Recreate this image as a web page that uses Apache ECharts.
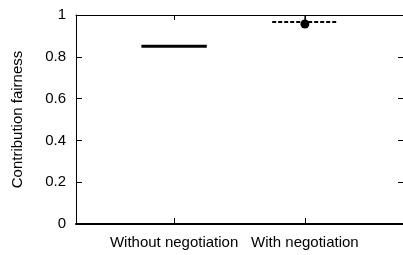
<!DOCTYPE html>
<html>
<head>
<meta charset="utf-8">
<script src="https://cdn.jsdelivr.net/npm/echarts@6/dist/echarts.min.js"></script>
<style>
  html, body { margin: 0; padding: 0; background: #fff; }
  #chart { width: 403px; height: 255px; }
</style>
</head>
<body>
<div id="chart"></div>
<script>
// data
const categories = ['Without negotiation', 'With negotiation']
const medians = [0.85, 0.967]
const whiskerHigh = [0.85, 1.0]
const means = [null, 0.957]
const yTicks = [0, 0.2, 0.4, 0.6, 0.8, 1]

const lineStyles = [
  { lineWidth: 3, lineDash: null },
  { lineWidth: 2, lineDash: [4, 2] }
]
const halfWidth = 0.25
const font = 'Liberation Sans, Arial, Helvetica, sans-serif'

const seriesData = categories.map((c, i) => [i, medians[i], whiskerHigh[i], means[i] == null ? NaN : means[i]])

function renderItem(params, api) {
  const idx = api.value(0)
  const med = api.value(1)
  const hi = api.value(2)
  const mean = api.value(3)
  const st = lineStyles[idx]
  const a = api.coord([idx - halfWidth, med])
  const b = api.coord([idx + halfWidth, med])
  const children = [{
    type: 'line',
    shape: { x1: a[0], y1: a[1], x2: b[0], y2: b[1] },
    style: { stroke: '#000', lineWidth: st.lineWidth, lineDash: st.lineDash }
  }]
  if (hi > med) {
    const w1 = api.coord([idx, med])
    const w2 = api.coord([idx, hi])
    children.push({
      type: 'line',
      shape: { x1: w1[0], y1: w1[1], x2: w2[0], y2: w2[1] },
      style: { stroke: '#000', lineWidth: 1 }
    })
  }
  if (!isNaN(mean)) {
    const m = api.coord([idx, mean])
    children.push({
      type: 'circle',
      shape: { cx: m[0], cy: m[1], r: 4.5 },
      style: { fill: '#000' }
    })
  }
  return { type: 'group', children: children }
}

const chart = echarts.init(document.getElementById('chart'), null, { renderer: 'canvas' })
chart.setOption({
  animation: false,
  grid: { left: 76, right: -1, top: 15, bottom: 31 },
  xAxis: [{
    type: 'value',
    min: -0.75,
    max: 1.75,
    axisLine: { show: true, onZero: false, lineStyle: { color: '#000', width: 2 } },
    axisTick: { show: true, inside: true, length: 6, customValues: [0, 1], lineStyle: { color: '#000' } },
    axisLabel: {
      customValues: [0, 1],
      formatter: v => categories[Math.round(v)],
      color: '#000',
      fontFamily: font,
      fontSize: 15,
      margin: 11
    },
    splitLine: { show: false }
  }, {
    type: 'value',
    position: 'top',
    min: -0.75,
    max: 1.75,
    axisLine: { show: true, onZero: false, lineStyle: { color: '#000', width: 1 } },
    axisTick: { show: true, inside: true, length: 5, customValues: [0, 1], lineStyle: { color: '#000' } },
    axisLabel: { show: false },
    splitLine: { show: false }
  }],
  yAxis: [{
    type: 'value',
    min: 0,
    max: 1,
    interval: 0.2,
    name: 'Contribution fairness',
    nameLocation: 'middle',
    nameGap: 51,
    nameTextStyle: { color: '#000', fontFamily: font, fontSize: 15 },
    axisLine: { show: true, onZero: false, lineStyle: { color: '#000', width: 1 } },
    axisTick: { show: true, inside: true, length: 6, lineStyle: { color: '#000' } },
    axisLabel: {
      color: '#000',
      fontFamily: font,
      fontSize: 15,
      margin: 10,
      formatter: v => yTicks.includes(+v.toFixed(1)) ? String(+v.toFixed(1)) : ''
    },
    splitLine: { show: false }
  }, {
    type: 'value',
    position: 'right',
    min: 0,
    max: 1,
    interval: 0.2,
    axisLine: { show: false, onZero: false },
    axisTick: { show: true, inside: true, length: 5, lineStyle: { color: '#000' } },
    axisLabel: { show: false },
    splitLine: { show: false }
  }],
  series: [{
    type: 'custom',
    xAxisIndex: 0,
    yAxisIndex: 0,
    renderItem: renderItem,
    data: seriesData,
    clip: false,
    z: 5
  }]
})
</script>
</body>
</html>
